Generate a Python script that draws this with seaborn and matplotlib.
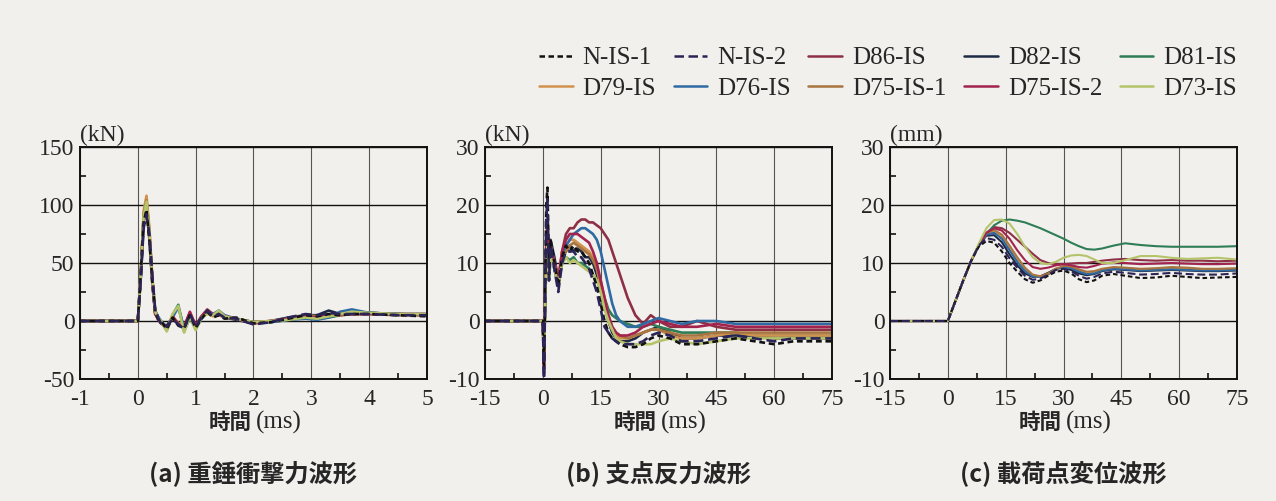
import matplotlib
matplotlib.use("Agg")
import matplotlib.pyplot as plt
import numpy as np
import pandas as pd
import seaborn as sns
from matplotlib.lines import Line2D
from matplotlib.ticker import MultipleLocator

# ---------------- data ----------------
series_names = ["N-IS-1", "N-IS-2", "D86-IS", "D82-IS", "D81-IS",
                "D79-IS", "D76-IS", "D75-IS-1", "D75-IS-2", "D73-IS"]

# (a) impact force (kN) vs time (ms)
t_a = [-1.0, -0.5, 0.0, 0.05, 0.1, 0.15, 0.2, 0.25, 0.3, 0.35,
       0.4, 0.5, 0.6, 0.7, 0.8, 0.9, 1.0, 1.1, 1.2, 1.3,
       1.4, 1.5, 1.7, 2.0, 2.3, 2.6, 2.9, 3.1, 3.3, 3.5,
       3.7, 4.0, 4.5, 5.0]
a_N_IS_1 = [0, 0, 0, 40, 85, 96, 70, 35, 8, 2, 0, -7, 3, -4, -6, 5, -6, 2, 8, 3, 5, 2, 3, -2, -1, 2, 5, 4, 6, 5, 6, 6, 5, 4]
a_N_IS_2 = [0, 0, 0, 35, 80, 92, 75, 40, 10, 3, -2, -5, 2, -3, -7, 6, -5, 3, 9, 4, 6, 3, 2, -3, -1, 3, 6, 5, 7, 6, 6, 6, 5, 5]
a_D86 = [0, 0, 0, 38, 88, 100, 72, 33, 6, 2, -1, -6, 4, -2, -5, 7, -4, 4, 10, 6, 5, 4, 2, -1, 0, 2, 4, 3, 4, 5, 6, 7, 6, 5]
a_D82 = [0, 0, 0, 40, 90, 102, 75, 36, 7, 1, -2, -4, 3, -3, -6, 4, -5, 3, 8, 5, 7, 3, 1, -2, 0, 3, 5, 5, 9, 6, 7, 7, 6, 6]
a_D81 = [0, 0, 0, 36, 85, 98, 70, 32, 8, 3, 0, -8, 5, 14, -9, 3, -7, 2, 7, 5, 8, 4, 2, -1, -1, 1, 3, 2, 3, 5, 7, 7, 6, 5]
a_D79 = [0, 0, 0, 42, 95, 108, 80, 38, 8, 2, -1, -8, 4, -2, -5, 6, -5, 3, 7, 4, 5, 3, 2, -2, -1, 2, 5, 4, 5, 5, 6, 6, 6, 5]
a_D76 = [0, 0, 0, 38, 88, 100, 74, 35, 9, 4, 0, -6, 3, 12, -6, 5, -4, 3, 8, 6, 9, 5, 2, -1, -1, 1, 2, 1, 3, 8, 10, 7, 6, 5]
a_D75_1 = [0, 0, 0, 40, 92, 104, 78, 37, 7, 2, -1, -7, 3, -2, -6, 7, -5, 4, 7, 5, 6, 4, 2, -1, 0, 2, 4, 4, 5, 5, 6, 6, 5, 5]
a_D75_2 = [0, 0, 0, 37, 86, 98, 72, 34, 6, 2, -2, -6, 4, -3, -5, 8, -4, 4, 9, 5, 7, 4, 2, -2, 0, 2, 4, 3, 5, 6, 6, 6, 6, 6]
a_D73 = [0, 0, 0, 39, 90, 103, 76, 36, 8, 3, 0, -9, 6, 13, -10, 4, -8, 3, 6, 5, 9, 4, 2, -1, 0, 1, 3, 2, 4, 6, 8, 7, 6, 6]

# (b) support reaction (kN) vs time (ms)
t_b = [-15, -10, -5, 0, 0.3, 0.6, 0.9, 1.2, 1.6, 2,
       3, 4, 5, 6, 7, 8, 9, 10, 11, 12,
       13, 14, 15, 16, 17, 18, 19, 20, 22, 24,
       26, 28, 30, 33, 36, 40, 45, 50, 55, 60,
       65, 70, 75]
b_N_IS_1 = [0, 0, 0, 0, -9, 5, 20, 23, 8, 14, 10, 6, 11, 13, 12, 13, 12, 12, 11, 10, 8, 6, 3, 0, -2, -3, -3.5, -4, -4.5, -4.5, -4, -3, -2.5, -3, -4, -4, -3.5, -3, -3.5, -4, -3.5, -3.5, -3.5]
b_N_IS_2 = [0, 0, 0, 0, -10, 4, 18, 21, 7, 13, 9, 5, 10, 12, 12, 12, 11, 11, 10, 9, 7, 5, 2, -1, -2, -3, -3.5, -4, -4, -4, -3.5, -2.5, -2, -2.5, -3.5, -3.5, -3, -2.5, -3, -3.5, -3, -3, -3]
b_D86 = [0, 0, 0, 0, -6, 3, 10, 14, 8, 12, 10, 7, 12, 15, 16, 16, 17, 17.5, 17.5, 17, 17, 16.5, 16, 15, 14, 12, 10, 8, 4, 1, -0.5, 1, 0, -1, -1, 0, -1, -1.5, -1.5, -1.5, -1.5, -1.5, -1.5]
b_D82 = [0, 0, 0, 0, -7, 5, 13, 16, 9, 14, 11, 7, 11, 12, 13, 12, 12.5, 12, 11, 11, 10, 8, 6, 3, 0, -2, -3, -3.5, -3.5, -3, -2, -1.5, -1, -2, -3, -3, -2.5, -2.5, -2.5, -3, -3, -3, -3]
b_D81 = [0, 0, 0, 0, -6, 3, 11, 14, 7, 12, 9, 6, 10, 11, 10.5, 11, 10, 10, 9.5, 9, 8, 7, 6, 4, 2, 1, 0.5, 0, -0.5, -1, -1, -0.5, -1, -1.5, -2, -2, -2, -2, -2.5, -2.5, -2.5, -2.5, -2.5]
b_D79 = [0, 0, 0, 0, -7, 4, 12, 15, 8, 13, 10, 7, 12, 13, 14, 14, 13.5, 13, 12.5, 12, 11, 9, 6, 3, 0, -1.5, -2.5, -3, -3, -2.5, -2, -1.5, -1.5, -2.5, -3, -3, -2.5, -2, -2.5, -2.5, -2.5, -2.5, -2.5]
b_D76 = [0, 0, 0, 0, -5, 4, 12, 15, 7, 11, 9, 6, 11, 13, 14, 15, 15.5, 16, 16, 15.5, 15, 14, 12, 9, 6, 3, 1, 0, -1, -1, -0.5, 0, 0.5, 0, -0.5, 0, 0, -0.5, -0.5, -0.5, -0.5, -0.5, -0.5]
b_D75_1 = [0, 0, 0, 0, -6, 4, 11, 14, 8, 12, 10, 6, 11, 12, 13, 13.5, 13, 12.5, 12, 11.5, 10.5, 9, 7, 4, 1, -1, -2, -2.5, -3, -2.5, -2, -1.5, -1.5, -2, -2.5, -2.5, -2, -2, -2, -2, -2, -2, -2]
b_D75_2 = [0, 0, 0, 0, -8, 5, 14, 17, 8, 13, 10, 7, 12, 14, 15, 15, 15, 14.5, 14, 13.5, 12, 10, 7, 4, 1, -1, -2, -2.5, -2.5, -2, -1, -0.5, 0, -0.5, -1, -1, -0.5, -1, -1, -1, -1, -1, -1]
b_D73 = [0, 0, 0, 0, -5, 3, 10, 13, 7, 11, 9, 6, 10, 11, 10, 10.5, 10, 9.5, 9, 8.5, 8, 7, 5, 2, 0, -1.5, -3, -3.5, -4, -4, -4, -4, -3.5, -3, -3.5, -4, -3.5, -3, -3, -3, -3, -3, -3]

# (c) load-point displacement (mm) vs time (ms)
t_c = [-15, -5, 0, 2, 4, 6, 8, 10, 12, 14,
       16, 18, 20, 22, 24, 26, 28, 30, 32, 34,
       36, 38, 40, 43, 46, 50, 54, 58, 62, 66,
       70, 75]
c_N_IS_1 = [0, 0, 0, 3.5, 7, 10.3, 12.8, 13.8, 13.5, 12, 10, 8.5, 7.2, 6.6, 7, 7.8, 8.5, 8.7, 8.2, 7.2, 6.7, 7, 7.8, 8.1, 7.8, 7.4, 7.5, 7.8, 7.6, 7.4, 7.5, 7.6]
c_N_IS_2 = [0, 0, 0, 3.5, 7, 10.3, 13, 14.3, 14, 12.8, 10.8, 9.2, 7.8, 7.1, 7.3, 8, 8.8, 9, 8.6, 7.8, 7.3, 7.6, 8.2, 8.5, 8.3, 8, 8.1, 8.3, 8.1, 8, 8, 8.2]
c_D86 = [0, 0, 0, 3.5, 7, 10.3, 13, 15.2, 16.2, 16, 15.2, 14, 12.8, 11.6, 10.5, 10, 9.8, 9.8, 9.9, 10, 10, 10.2, 10.4, 10.6, 10.7, 10.5, 10.4, 10.5, 10.4, 10.4, 10.3, 10.4]
c_D82 = [0, 0, 0, 3.5, 7, 10.3, 13, 14.7, 14.8, 13.6, 11.5, 9.6, 8.2, 7.6, 7.7, 8.3, 9, 9.2, 8.8, 8.2, 7.9, 8.1, 8.6, 8.9, 8.8, 8.6, 8.7, 8.8, 8.7, 8.6, 8.6, 8.7]
c_D81 = [0, 0, 0, 3.5, 7, 10.3, 13, 15, 16.5, 17.3, 17.5, 17.3, 17, 16.5, 16, 15.4, 14.8, 14.2, 13.5, 12.9, 12.4, 12.3, 12.5, 13, 13.4, 13.1, 12.9, 12.8, 12.8, 12.8, 12.8, 12.9]
c_D79 = [0, 0, 0, 3.5, 7, 10.3, 13, 15, 15.4, 14.5, 12.5, 10.5, 8.8, 7.8, 7.6, 8, 8.8, 9.3, 9.2, 8.6, 8.2, 8.3, 8.8, 9.2, 9.1, 8.9, 9, 9.1, 9, 8.9, 8.9, 9]
c_D76 = [0, 0, 0, 3.5, 7, 10.3, 13, 14.9, 15.2, 14.2, 12.2, 10.2, 8.6, 7.7, 7.6, 8.1, 8.9, 9.3, 9.1, 8.5, 8.1, 8.2, 8.7, 9, 8.9, 8.7, 8.8, 8.9, 8.8, 8.7, 8.7, 8.8]
c_D75_1 = [0, 0, 0, 3.5, 7, 10.3, 13, 15.2, 15.7, 14.9, 13, 11, 9.2, 8, 7.7, 8.2, 9, 9.5, 9.4, 8.9, 8.5, 8.6, 9, 9.3, 9.2, 9, 9.1, 9.3, 9.2, 9, 9, 9.1]
c_D75_2 = [0, 0, 0, 3.5, 7, 10.3, 13, 15.2, 16, 15.6, 14.2, 12.2, 10.5, 9.3, 9, 9.2, 9.6, 9.8, 9.6, 9.3, 9.2, 9.5, 9.9, 10.1, 10, 9.8, 9.9, 10, 9.9, 9.8, 9.8, 9.9]
c_D73 = [0, 0, 0, 3.5, 7, 10.3, 13.3, 16, 17.4, 17.5, 16.8, 15, 12.8, 11, 10, 9.8, 10.2, 10.9, 11.3, 11.4, 11.2, 10.6, 10, 10, 10.5, 11.2, 11.2, 10.9, 10.7, 10.8, 10.9, 10.6]

# ---------------- style ----------------
colors = {
    "N-IS-1": "#111111", "N-IS-2": "#2b2456", "D86-IS": "#8e2f45",
    "D82-IS": "#1f2a44", "D81-IS": "#2f7d57", "D79-IS": "#d2924f",
    "D76-IS": "#2f6aa3", "D75-IS-1": "#a8743f", "D75-IS-2": "#a3234f",
    "D73-IS": "#b5c46a",
}
dash_map = {n: "" for n in series_names}
dash_map["N-IS-1"] = (2.2, 1.4)
dash_map["N-IS-2"] = (3.8, 1.8)
draw_order = series_names[2:] + series_names[:2]

paper = "#f1f0ed"
SERIF = "Liberation Serif"
CJK = "Noto Sans CJK JP"

sns.set_theme(style="ticks")
plt.rcParams["font.family"] = [SERIF, "DejaVu Sans"]
plt.rcParams["axes.linewidth"] = 1.3

fig = plt.figure(figsize=(12.76, 5.01), dpi=100)
fig.patch.set_facecolor(paper)

W, H = 1276, 501
def rect(left_px, right_px, top_px, bottom_px):
    return [left_px / W, 1 - bottom_px / H, (right_px - left_px) / W, (bottom_px - top_px) / H]

panels = [
    dict(pos=rect(80, 427, 147, 379), t=t_a,
         vals=[a_N_IS_1, a_N_IS_2, a_D86, a_D82, a_D81, a_D79, a_D76, a_D75_1, a_D75_2, a_D73],
         xlim=(-1, 5), xticks=[-1, 0, 1, 2, 3, 4, 5], xminor=0.5,
         ylim=(-50, 150), yticks=[-50, 0, 50, 100, 150], yminor=25,
         unit="(kN)", sub="(a) 重錘衝撃力波形", lw=1.9),
    dict(pos=rect(485, 832, 147, 379), t=t_b,
         vals=[b_N_IS_1, b_N_IS_2, b_D86, b_D82, b_D81, b_D79, b_D76, b_D75_1, b_D75_2, b_D73],
         xlim=(-15, 75), xticks=[-15, 0, 15, 30, 45, 60, 75], xminor=7.5,
         ylim=(-10, 30), yticks=[-10, 0, 10, 20, 30], yminor=5,
         unit="(kN)", sub="(b) 支点反力波形", lw=1.9),
    dict(pos=rect(890, 1237, 147, 379), t=t_c,
         vals=[c_N_IS_1, c_N_IS_2, c_D86, c_D82, c_D81, c_D79, c_D76, c_D75_1, c_D75_2, c_D73],
         xlim=(-15, 75), xticks=[-15, 0, 15, 30, 45, 60, 75], xminor=7.5,
         ylim=(-10, 30), yticks=[-10, 0, 10, 20, 30], yminor=5,
         unit="(mm)", sub="(c) 載荷点変位波形", lw=1.5),
]

for p in panels:
    ax = fig.add_axes(p["pos"])
    ax.set_facecolor(paper)
    frames = []
    for name, v in zip(series_names, p["vals"]):
        frames.append(pd.DataFrame({"t": p["t"], "v": v, "series": name}))
    df = pd.concat(frames, ignore_index=True)
    sns.lineplot(data=df, x="t", y="v", hue="series", style="series",
                 hue_order=draw_order, style_order=draw_order,
                 palette=colors, dashes=dash_map, estimator=None, sort=False,
                 linewidth=p["lw"], legend=False, ax=ax)
    ax.set_xlim(*p["xlim"])
    ax.set_ylim(*p["ylim"])
    ax.set_xticks(p["xticks"])
    ax.set_yticks(p["yticks"])
    ax.xaxis.set_minor_locator(MultipleLocator(p["xminor"]))
    ax.yaxis.set_minor_locator(MultipleLocator(p["yminor"]))
    ax.set_xticklabels([str(x) for x in p["xticks"]])
    ax.set_yticklabels([str(y) for y in p["yticks"]])
    ax.grid(axis="y", which="major", color="#111111", linewidth=1.0)
    ax.grid(axis="x", which="major", color="#555555", linewidth=0.8)
    ax.set_axisbelow(True)
    ax.tick_params(which="major", length=0, labelsize=17, pad=7)
    ax.tick_params(axis="y", which="major", pad=4)
    ax.tick_params(which="minor", direction="in", length=4, width=1.2,
                   left=True, bottom=True, top=False, right=False, color="#111111")
    for lab in ax.get_xticklabels() + ax.get_yticklabels():
        lab.set_family(SERIF)
    for s in ax.spines.values():
        s.set_color("#111111")
        s.set_linewidth(1.4)
    ax.set_xlabel("")
    ax.set_ylabel("")
    ax.annotate(p["unit"], xy=(0, 1), xycoords="axes fraction",
                xytext=(0, 1), textcoords="offset points",
                ha="left", va="bottom", fontsize=17, family=SERIF)
    ax.annotate("時間", xy=(0.5, 0), xycoords="axes fraction",
                xytext=(-1, -31), textcoords="offset points",
                ha="right", va="center", fontsize=15.5, family=[CJK], weight="bold")
    ax.annotate("(ms)", xy=(0.5, 0), xycoords="axes fraction",
                xytext=(2, -31), textcoords="offset points",
                ha="left", va="center", fontsize=18, family=SERIF)
    ax.annotate(p["sub"], xy=(0.5, 0), xycoords="axes fraction",
                xytext=(0, -68), textcoords="offset points",
                ha="center", va="center", fontsize=17.5, family=[CJK], weight="bold")

legend_order = ["N-IS-1", "D79-IS", "N-IS-2", "D76-IS", "D86-IS",
                "D75-IS-1", "D82-IS", "D75-IS-2", "D81-IS", "D73-IS"]
handles = []
for n in legend_order:
    ls = "-" if dash_map[n] == "" else (0, dash_map[n])
    handles.append(Line2D([0], [0], color=colors[n], lw=1.8, linestyle=ls))
fig.legend(handles, legend_order, ncol=5, loc="upper right",
           bbox_to_anchor=(1237 / W, 1 - 47 / H), frameon=False,
           prop={"family": SERIF, "size": 18}, handlelength=1.35,
           handletextpad=0.4, columnspacing=0.7, labelspacing=0.32,
           borderpad=0, borderaxespad=0)

fig.savefig("out.png", dpi=100, facecolor=paper)
